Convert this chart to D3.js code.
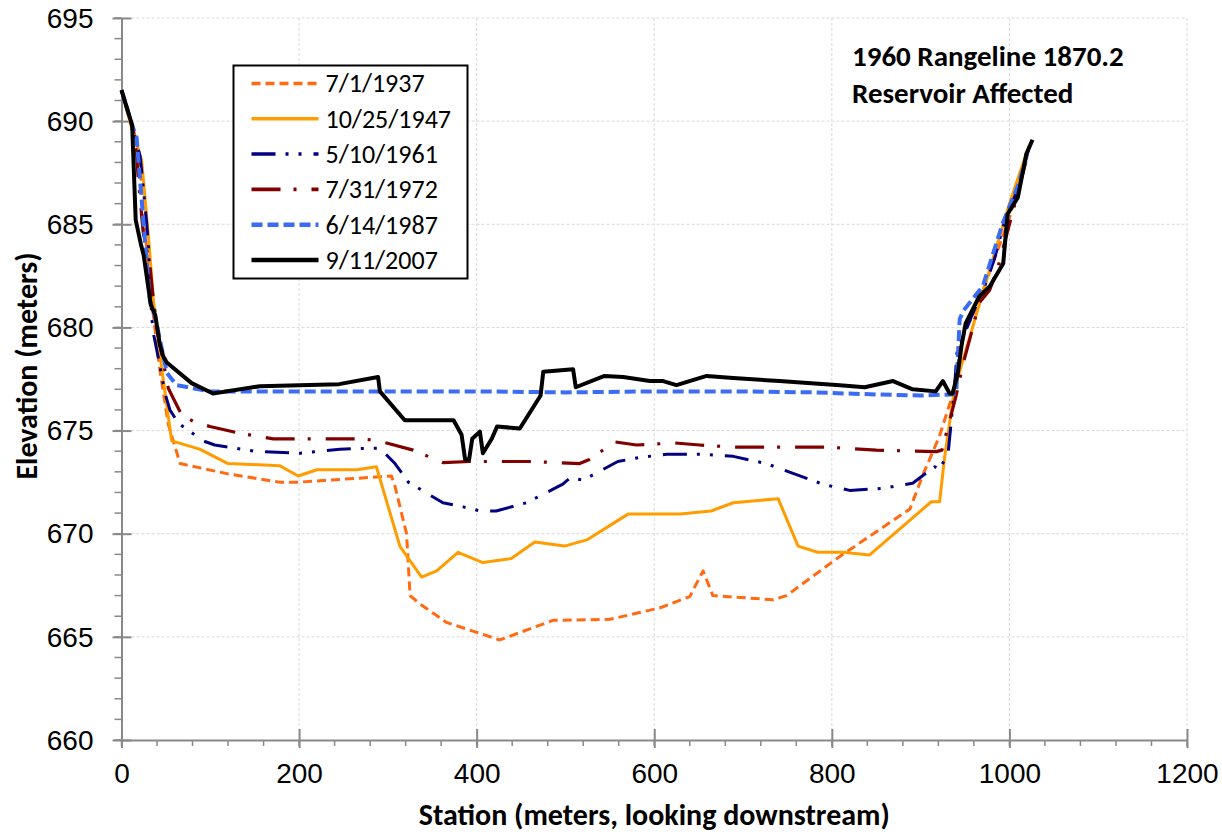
<!DOCTYPE html>
<html>
<head>
<meta charset="utf-8">
<script src="https://cdn.jsdelivr.net/npm/d3@7"></script>
<style>
  body { margin: 0; background: #fff; }
  svg { font-family: Carlito, Calibri, Lato, sans-serif; }
  .tickText { font-size: 28px; fill: #000; }
  .axisTitle { font-size: 30px; font-weight: bold; fill: #000; }
  .legendText { font-size: 26px; fill: #000; }
  .noteText { font-size: 29px; font-weight: bold; fill: #000; }
</style>
</head>
<body>
<svg id="chart" width="1222" height="834"></svg>
<script>
// ---------------------------- DATA ----------------------------
const seriesNames = ["7/1/1937", "10/25/1947", "5/10/1961", "7/31/1972", "6/14/1987", "9/11/2007"];

const sta1937 = [0, 13, 20, 26.5, 34, 43, 52.7, 66, 120, 178, 200, 304, 308, 321, 325, 336, 366, 426, 486, 550, 606, 640, 655, 666, 734, 749, 809, 888, 903, 921, 935, 948, 965, 1000, 1020];
const elev1937 = [691.5, 689.7, 688.4, 684.7, 681.3, 678.0, 675.3, 673.4, 672.9, 672.5, 672.5, 672.8, 672.3, 670.0, 667.0, 666.6, 665.7, 664.85, 665.8, 665.85, 666.4, 666.95, 668.2, 667.0, 666.8, 667.0, 668.9, 671.2, 672.9, 674.7, 676.6, 679.6, 681.2, 685.3, 688.5];

const sta1947 = [0, 13, 22.7, 30, 36, 45, 56.5, 88, 120, 178, 199, 220, 265, 287, 313.5, 323, 338, 355, 379, 407, 439, 465.5, 499, 524, 570.5, 629, 664, 689, 739.5, 762, 784, 812.5, 842.6, 912, 921.4, 927, 938, 966, 1000, 1022];
const elev1947 = [691.5, 689.4, 688.1, 684.6, 681.3, 678.1, 674.5, 674.1, 673.4, 673.3, 672.8, 673.1, 673.1, 673.25, 669.4, 668.8, 667.9, 668.2, 669.1, 668.6, 668.8, 669.6, 669.4, 669.7, 670.95, 670.95, 671.1, 671.5, 671.7, 669.4, 669.1, 669.1, 668.97, 671.55, 671.55, 673.7, 677.0, 681.1, 686.0, 688.8];

const sta1961 = [0, 12, 21, 24.5, 28, 30, 34, 36, 42.5, 49, 54.6, 64, 79, 92, 105, 150, 201, 246, 291, 308, 323, 362, 385, 404, 422, 456, 497, 505, 520, 559, 584, 614, 655, 689, 726, 790, 820, 858, 891, 916, 921, 931, 938, 941, 957, 974, 983, 993, 1010, 1022];
const elev1961 = [691.5, 689.7, 688.3, 686.8, 685.2, 684.2, 680.5, 679.7, 678.3, 676.8, 676.0, 675.35, 674.9, 674.5, 674.3, 674.0, 673.9, 674.1, 674.15, 673.4, 672.5, 671.5, 671.3, 671.1, 671.1, 671.5, 672.4, 672.7, 672.6, 673.5, 673.7, 673.85, 673.85, 673.75, 673.4, 672.4, 672.1, 672.2, 672.45, 673.25, 673.1, 673.9, 677.0, 678.8, 680.5, 682.2, 683.3, 684.9, 686.8, 688.7];

const sta1972 = [0, 12, 17, 19, 21, 22.7, 24.5, 32, 36, 41, 45, 52.7, 67.8, 82.7, 99.6, 129.7, 171, 265, 282, 298.5, 328.5, 362, 392, 460, 516, 527, 555.6, 580, 623, 651, 689, 794, 850, 917.7, 924, 940, 947.6, 957, 966, 977.7, 987, 1005, 1022];
const elev1972 = [691.5, 689.8, 688.4, 687.1, 686.3, 685.4, 684.6, 683.0, 681.3, 679.7, 678.8, 677.05, 675.75, 675.4, 675.2, 674.9, 674.6, 674.6, 674.55, 674.4, 674.05, 673.45, 673.5, 673.5, 673.4, 673.6, 674.45, 674.3, 674.4, 674.3, 674.2, 674.2, 674.05, 673.98, 674.05, 676.7, 678.2, 679.7, 681.2, 681.8, 682.9, 685.8, 688.6];

const sta1987 = [0, 12, 17, 24, 32, 38, 51, 62, 99.6, 200, 300, 400, 500, 600, 700, 780, 850, 900, 935, 940, 944, 948, 970, 992, 1010, 1022];
const elev1987 = [691.5, 689.8, 689.2, 685.5, 681.3, 680.5, 677.8, 677.2, 676.9, 676.9, 676.9, 676.9, 676.85, 676.9, 676.9, 676.85, 676.75, 676.7, 676.75, 676.8, 680.4, 680.8, 682.0, 685.0, 686.9, 688.7];

const sta2007 = [0, 12, 16, 22, 25, 33, 38, 43, 47, 51, 79, 103, 156, 245, 289, 291, 319, 374, 383, 387, 391.5, 395, 403.6, 407, 417, 423, 448.6, 472, 475, 508.6, 511.6, 544, 565, 595, 610, 625, 659, 689, 741, 809, 837, 869, 891, 917, 925, 932.7, 936, 942, 946, 950.7, 966, 978, 993, 998, 1009.5, 1019, 1026];
const elev2007 = [691.5, 689.8, 685.2, 684.0, 683.5, 681.1, 680.6, 679.2, 678.6, 678.3, 677.3, 676.8, 677.15, 677.25, 677.6, 676.9, 675.5, 675.5, 674.8, 673.6, 673.6, 674.6, 674.95, 673.9, 674.6, 675.2, 675.1, 676.7, 677.85, 677.97, 677.1, 677.65, 677.6, 677.4, 677.4, 677.2, 677.65, 677.55, 677.4, 677.2, 677.1, 677.4, 677.0, 676.9, 677.4, 676.8, 676.8, 677.8, 679.1, 680.2, 681.5, 682.0, 683.1, 685.5, 686.3, 688.4, 689.1];

const xTicks = [0, 200, 400, 600, 800, 1000, 1200];
const yTicks = [660, 665, 670, 675, 680, 685, 690, 695];

// ---------------------------- STYLES ----------------------------
const seriesStyles = [
    { colour: "#ff6a13", width: 3, dash: "9,5" },
    { colour: "#ff9d00", width: 3, dash: null },
    { colour: "#000080", width: 3, dash: "24,10,3,10,3,12" },
    { colour: "#800000", width: 3.2, dash: "29,13,3,15" },
    { colour: "#3a6cf4", width: 4, dash: "11,5" },
    { colour: "#000000", width: 4, dash: null }
];

const seriesData = [
    d3.zip(sta1937, elev1937),
    d3.zip(sta1947, elev1947),
    d3.zip(sta1961, elev1961),
    d3.zip(sta1972, elev1972),
    d3.zip(sta1987, elev1987),
    d3.zip(sta2007, elev2007)
];

// ---------------------------- CHART SETUP ----------------------------
const svg = d3.select("#chart");
const plotLeft = 121.5, plotRight = 1187, plotTop = 18, plotBottom = 740;
const axisColour = "#898989";

const x = d3.scaleLinear().domain([0, 1200]).range([plotLeft, plotRight]);
const y = d3.scaleLinear().domain([660, 695]).range([plotBottom, plotTop]);

// Gridlines
svg.append("g")
    .selectAll("line")
    .data(yTicks.slice(1))
    .enter()
    .append("line")
    .attr("x1", plotLeft).attr("x2", plotRight)
    .attr("y1", d => y(d)).attr("y2", d => y(d))
    .style("stroke", "#d9d9d9").style("stroke-width", 1).style("stroke-dasharray", "3,2");
svg.append("g")
    .selectAll("line")
    .data(xTicks.slice(1))
    .enter()
    .append("line")
    .attr("x1", d => x(d)).attr("x2", d => x(d))
    .attr("y1", plotTop).attr("y2", plotBottom)
    .style("stroke", "#d9d9d9").style("stroke-width", 1).style("stroke-dasharray", "3,2");

// Minor ticks
const yMinor = d3.range(660, 696, 1);
svg.append("g")
    .selectAll("line")
    .data(yMinor)
    .enter()
    .append("line")
    .attr("x1", plotLeft - 7).attr("x2", plotLeft)
    .attr("y1", d => y(d)).attr("y2", d => y(d))
    .style("stroke", axisColour).style("stroke-width", 1.5);
const xMinor = d3.range(0, 1201, 40);
svg.append("g")
    .selectAll("line")
    .data(xMinor)
    .enter()
    .append("line")
    .attr("x1", d => x(d)).attr("x2", d => x(d))
    .attr("y1", plotBottom).attr("y2", plotBottom + 6)
    .style("stroke", axisColour).style("stroke-width", 1.5);

// Y axis
const yAxis = svg.append("g")
    .attr("transform", "translate(" + plotLeft + ",0)")
    .call(d3.axisLeft(y).tickValues(yTicks).tickFormat(d3.format("d")).tickSizeInner(9).tickSizeOuter(0).tickPadding(19));
yAxis.select(".domain").style("stroke", axisColour).style("stroke-width", 2);
yAxis.selectAll(".tick line").attr("x1", 10).style("stroke", axisColour).style("stroke-width", 2);
yAxis.selectAll(".tick text").attr("class", "tickText").attr("dy", "0.33em");

// X axis
const xAxis = svg.append("g")
    .attr("transform", "translate(0," + plotBottom + ")")
    .call(d3.axisBottom(x).tickValues(xTicks).tickFormat(d3.format("d")).tickSizeInner(8).tickSizeOuter(0).tickPadding(15));
xAxis.select(".domain").style("stroke", axisColour).style("stroke-width", 2);
xAxis.selectAll(".tick line").attr("y1", -11).style("stroke", axisColour).style("stroke-width", 2);
xAxis.selectAll(".tick text").attr("class", "tickText").attr("dy", "0.71em");

// Axis titles
svg.append("text")
    .attr("class", "axisTitle")
    .attr("x", (plotLeft + plotRight) / 2)
    .attr("y", 825)
    .attr("text-anchor", "middle")
    .text("Station (meters, looking downstream)");
svg.append("text")
    .attr("class", "axisTitle")
    .attr("transform", "translate(37,366) rotate(-90)")
    .attr("text-anchor", "middle")
    .text("Elevation (meters)");

// ---------------------------- SERIES ----------------------------
const line = d3.line()
    .x(d => x(d[0]))
    .y(d => y(d[1]));

svg.append("g")
    .selectAll("path")
    .data(seriesData)
    .enter()
    .append("path")
    .attr("d", line)
    .style("fill", "none")
    .style("stroke", (d, i) => seriesStyles[i].colour)
    .style("stroke-width", (d, i) => seriesStyles[i].width)
    .style("stroke-dasharray", (d, i) => seriesStyles[i].dash)
    .style("stroke-linejoin", "round")
    .style("stroke-linecap", "butt");

// ---------------------------- LEGEND ----------------------------
const legend = svg.append("g").attr("transform", "translate(233.5,65.5)");
legend.append("rect")
    .attr("width", 234)
    .attr("height", 213)
    .style("fill", "#fff")
    .style("stroke", "#000")
    .style("stroke-width", 2);
const legendRows = legend.selectAll("g.row")
    .data(seriesNames)
    .enter()
    .append("g")
    .attr("class", "row")
    .attr("transform", (d, i) => "translate(0," + (18 + i * 35.3) + ")");
legendRows.append("line")
    .attr("x1", 18).attr("x2", 85)
    .style("stroke", (d, i) => seriesStyles[i].colour)
    .style("stroke-width", (d, i) => seriesStyles[i].width + 0.5)
    .style("stroke-dasharray", (d, i) => seriesStyles[i].dash)
    .style("stroke-linecap", "butt");
legendRows.append("text")
    .attr("class", "legendText")
    .attr("x", 92)
    .attr("dy", "0.34em")
    .text(d => d);

// ---------------------------- NOTE ----------------------------
svg.append("text")
    .attr("class", "noteText")
    .attr("x", 852)
    .attr("y", 66)
    .text("1960 Rangeline 1870.2");
svg.append("text")
    .attr("class", "noteText")
    .attr("x", 852)
    .attr("y", 103)
    .text("Reservoir Affected");
</script>
</body>
</html>
